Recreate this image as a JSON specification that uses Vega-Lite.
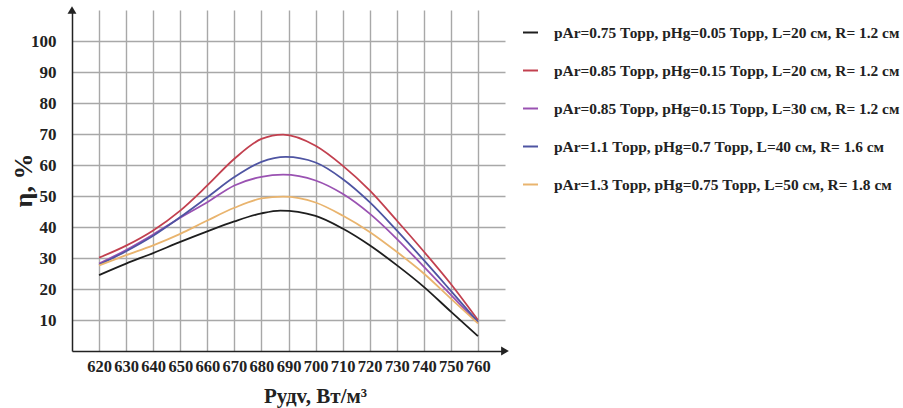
{
  "$schema": "https://vega.github.io/schema/vega-lite/v6.json",
  "autosize": "none",
  "width": 433,
  "height": 341,
  "padding": {"left": 72, "top": 10, "right": 398, "bottom": 57},
  "background": "white",
  "config": {
    "view": {"stroke": null},
    "font": "Liberation Serif",
    "axis": {
      "labelFont": "Liberation Serif",
      "labelFontWeight": "bold",
      "labelColor": "#222222",
      "titleFont": "Liberation Serif",
      "titleFontWeight": "bold",
      "titleColor": "#222222",
      "gridColor": "#a8a8a8",
      "gridWidth": 1.4,
      "gridOpacity": 1,
      "domainColor": "#222222",
      "domainWidth": 1.5,
      "ticks": false,
      "labelOverlap": false
    }
  },
  "datasets": {
    "curves": [
      {"s": 1, "x": 620, "y": 24.5}, {"s": 1, "x": 630, "y": 28.2}, {"s": 1, "x": 640, "y": 31.6}, {"s": 1, "x": 650, "y": 35.2}, {"s": 1, "x": 660, "y": 38.6}, {"s": 1, "x": 670, "y": 41.8}, {"s": 1, "x": 680, "y": 44.4}, {"s": 1, "x": 687, "y": 45.3}, {"s": 1, "x": 700, "y": 43.6}, {"s": 1, "x": 710, "y": 39.5}, {"s": 1, "x": 720, "y": 34.1}, {"s": 1, "x": 730, "y": 27.7}, {"s": 1, "x": 740, "y": 20.7}, {"s": 1, "x": 750, "y": 12.7}, {"s": 1, "x": 760, "y": 4.8},
      {"s": 2, "x": 620, "y": 30.1}, {"s": 2, "x": 630, "y": 34.0}, {"s": 2, "x": 640, "y": 38.9}, {"s": 2, "x": 650, "y": 45.3}, {"s": 2, "x": 660, "y": 53.4}, {"s": 2, "x": 670, "y": 62.0}, {"s": 2, "x": 680, "y": 68.4}, {"s": 2, "x": 688, "y": 69.8}, {"s": 2, "x": 700, "y": 66.2}, {"s": 2, "x": 710, "y": 59.8}, {"s": 2, "x": 720, "y": 51.8}, {"s": 2, "x": 730, "y": 42.1}, {"s": 2, "x": 740, "y": 32.1}, {"s": 2, "x": 750, "y": 21.6}, {"s": 2, "x": 760, "y": 10.0},
      {"s": 3, "x": 620, "y": 28.2}, {"s": 3, "x": 630, "y": 32.6}, {"s": 3, "x": 640, "y": 37.6}, {"s": 3, "x": 650, "y": 43.0}, {"s": 3, "x": 660, "y": 48.0}, {"s": 3, "x": 670, "y": 53.4}, {"s": 3, "x": 680, "y": 56.2}, {"s": 3, "x": 688, "y": 56.9}, {"s": 3, "x": 700, "y": 55.0}, {"s": 3, "x": 710, "y": 50.7}, {"s": 3, "x": 720, "y": 44.3}, {"s": 3, "x": 730, "y": 36.2}, {"s": 3, "x": 740, "y": 27.2}, {"s": 3, "x": 750, "y": 18.1}, {"s": 3, "x": 760, "y": 9.1},
      {"s": 4, "x": 620, "y": 27.8}, {"s": 4, "x": 630, "y": 32.2}, {"s": 4, "x": 640, "y": 37.2}, {"s": 4, "x": 650, "y": 43.2}, {"s": 4, "x": 660, "y": 49.6}, {"s": 4, "x": 670, "y": 56.1}, {"s": 4, "x": 680, "y": 61.0}, {"s": 4, "x": 689, "y": 62.6}, {"s": 4, "x": 700, "y": 60.8}, {"s": 4, "x": 710, "y": 55.5}, {"s": 4, "x": 720, "y": 48.0}, {"s": 4, "x": 730, "y": 38.9}, {"s": 4, "x": 740, "y": 29.3}, {"s": 4, "x": 750, "y": 19.4}, {"s": 4, "x": 760, "y": 9.4},
      {"s": 5, "x": 620, "y": 27.6}, {"s": 5, "x": 630, "y": 30.9}, {"s": 5, "x": 640, "y": 34.1}, {"s": 5, "x": 650, "y": 37.8}, {"s": 5, "x": 660, "y": 42.1}, {"s": 5, "x": 670, "y": 46.2}, {"s": 5, "x": 680, "y": 49.2}, {"s": 5, "x": 688, "y": 49.8}, {"s": 5, "x": 700, "y": 47.9}, {"s": 5, "x": 710, "y": 43.7}, {"s": 5, "x": 720, "y": 38.4}, {"s": 5, "x": 730, "y": 32.0}, {"s": 5, "x": 740, "y": 25.0}, {"s": 5, "x": 750, "y": 16.9}, {"s": 5, "x": 760, "y": 8.9}
    ],
    "labels": [
      {"s": 1, "label": "pAr=0.75 Торр, pHg=0.05 Торр, L=20 см, R= 1.2 см"},
      {"s": 2, "label": "pAr=0.85 Торр, pHg=0.15 Торр, L=20 см, R= 1.2 см"},
      {"s": 3, "label": "pAr=0.85 Торр, pHg=0.15 Торр, L=30 см, R= 1.2 см"},
      {"s": 4, "label": "pAr=1.1 Торр, pHg=0.7 Торр, L=40 см, R= 1.6 см"},
      {"s": 5, "label": "pAr=1.3 Торр, pHg=0.75 Торр, L=50 см, R= 1.8 см"}
    ]
  },
  "encoding": {
    "x": {
      "field": "x", "type": "quantitative",
      "scale": {"domain": [610, 770], "nice": false, "zero": false},
      "axis": {
        "values": [620, 630, 640, 650, 660, 670, 680, 690, 700, 710, 720, 730, 740, 750, 760],
        "labelFontSize": 16.5, "labelPadding": 7,
        "title": "Pудv, Вт/м³", "titleFontSize": 21,
        "titleX": 243, "titleY": 51, "titleAlign": "center", "titleBaseline": "alphabetic"
      }
    },
    "y": {
      "field": "y", "type": "quantitative",
      "scale": {"domain": [0, 110], "nice": false},
      "axis": {
        "values": [10, 20, 30, 40, 50, 60, 70, 80, 90, 100],
        "labelFontSize": 17, "labelPadding": 16,
        "title": "η, %", "titleFontSize": 26,
        "titleX": -49, "titleY": 170, "titleAlign": "center", "titleBaseline": "middle"
      }
    }
  },
  "layer": [
    {
      "data": {"name": "curves"},
      "transform": [
        {"lookup": "s", "from": {"data": {"name": "labels"}, "key": "s", "fields": ["label"]}}
      ],
      "mark": {"type": "line", "interpolate": "monotone", "strokeWidth": 1.8},
      "encoding": {
        "color": {
          "field": "label", "type": "nominal",
          "scale": {
            "domain": [
              "pAr=0.75 Торр, pHg=0.05 Торр, L=20 см, R= 1.2 см",
              "pAr=0.85 Торр, pHg=0.15 Торр, L=20 см, R= 1.2 см",
              "pAr=0.85 Торр, pHg=0.15 Торр, L=30 см, R= 1.2 см",
              "pAr=1.1 Торр, pHg=0.7 Торр, L=40 см, R= 1.6 см",
              "pAr=1.3 Торр, pHg=0.75 Торр, L=50 см, R= 1.8 см"
            ],
            "range": ["#1e1e1e", "#c2404f", "#9a52b2", "#4e54a2", "#e9b46e"]
          },
          "legend": {
            "title": null,
            "orient": "none",
            "legendX": 450,
            "legendY": 14,
            "padding": 0,
            "symbolType": "stroke",
            "symbolSize": 225,
            "symbolStrokeWidth": 2,
            "labelFont": "Liberation Serif",
            "labelFontWeight": "bold",
            "labelFontSize": 15.4,
            "labelColor": "#222222",
            "labelOffset": 15,
            "labelLimit": 400,
            "rowPadding": 21
          }
        }
      }
    },
    {
      "data": {"values": [{"x": 610, "y": 110}]},
      "mark": {"type": "point", "shape": "triangle-up", "filled": true, "color": "#222222", "size": 80, "opacity": 1}
    },
    {
      "data": {"values": [{"x": 770, "y": 0}]},
      "mark": {"type": "point", "shape": "triangle-right", "filled": true, "color": "#222222", "size": 80, "opacity": 1}
    }
  ]
}
